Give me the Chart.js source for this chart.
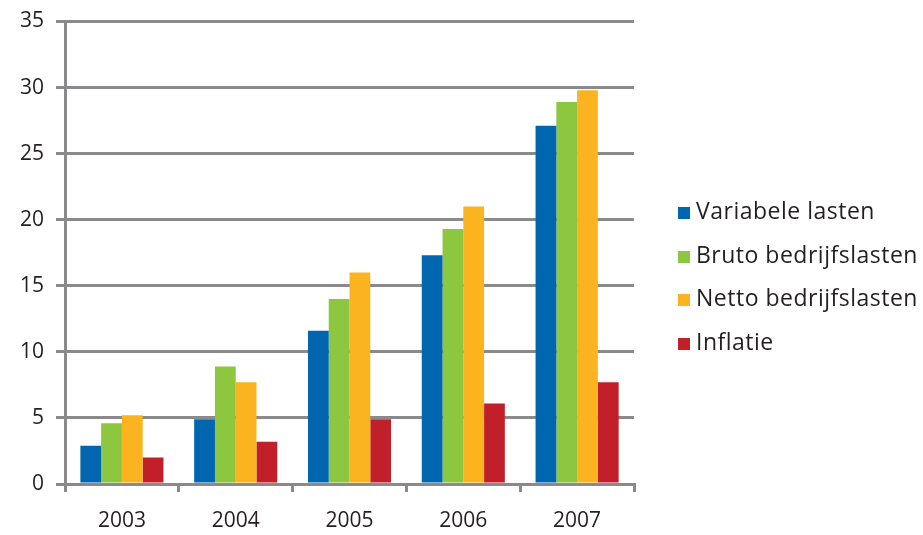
<!DOCTYPE html>
<html>
<head>
<meta charset="utf-8">
<script src="https://cdn.jsdelivr.net/npm/chart.js@4"></script>
<style>
  html, body { margin: 0; padding: 0; background: #fff; }
  #wrap { position: relative; width: 923px; height: 535px; }
  #legend { position: absolute; left: 678px; top: 189px; margin: 0; padding: 0; list-style: none;
            font-family: "Open Sans", sans-serif; font-size: 23px; letter-spacing: 0.5px; color: #231f20; }
  #legend li { height: 43.5px; line-height: 43.5px; white-space: nowrap; }
  #legend span { display: inline-block; width: 12px; height: 12px; margin-right: 6px; vertical-align: 0px; }
</style>
</head>
<body>
<div id="wrap"><canvas id="chart"></canvas><ul id="legend"></ul></div>
<script>
const years = ['2003', '2004', '2005', '2006', '2007'];
const variabeleLasten = [2.9, 4.9, 11.6, 17.3, 27.1];
const brutoBedrijfslasten = [4.6, 8.9, 14.0, 19.3, 28.9];
const nettoBedrijfslasten = [5.2, 7.7, 16.0, 21.0, 29.8];
const inflatie = [2.0, 3.2, 4.9, 6.1, 7.7];
const yTicks = [0, 5, 10, 15, 20, 25, 30, 35];

const gridGray = '#8a8a8c';
Chart.defaults.font.family = '"Open Sans", sans-serif';
Chart.defaults.color = '#231f20';

// html legend so the box sits where the reference has it
const htmlLegend = {
    id: 'htmlLegend',
    afterUpdate(chart) {
        const ul = document.getElementById('legend');
        ul.innerHTML = '';
        chart.data.datasets.forEach(ds => {
            const li = document.createElement('li');
            const box = document.createElement('span');
            box.style.background = ds.backgroundColor;
            li.appendChild(box);
            li.appendChild(document.createTextNode(ds.label));
            ul.appendChild(li);
        });
    }
};

new Chart(document.getElementById('chart'), {
    type: 'bar',
    data: {
        labels: years,
        datasets: [
            { label: 'Variabele lasten', data: variabeleLasten, backgroundColor: '#0066b0' },
            { label: 'Bruto bedrijfslasten', data: brutoBedrijfslasten, backgroundColor: '#8dc63f' },
            { label: 'Netto bedrijfslasten', data: nettoBedrijfslasten, backgroundColor: '#fbb41f' },
            { label: 'Inflatie', data: inflatie, backgroundColor: '#c1202a' }
        ]
    },
    plugins: [htmlLegend],
    options: {
        responsive: true,
        maintainAspectRatio: false,
        animation: false,
        layout: { padding: { top: 0, left: 8, right: 289, bottom: 0 } },
        datasets: { bar: { categoryPercentage: 0.73, barPercentage: 1.0 } },
        plugins: {
            legend: { display: false },
            tooltip: { enabled: false }
        },
        scales: {
            x: {
                afterFit: scale => { scale.height = 51; },
                grid: {
                    display: true,
                    drawOnChartArea: false,
                    drawTicks: true,
                    tickLength: 8,
                    offset: true,
                    color: gridGray,
                    lineWidth: 3
                },
                border: { display: true, color: gridGray, width: 3 },
                ticks: { font: { size: 21 }, padding: 16 }
            },
            y: {
                min: 0,
                max: 35,
                afterBuildTicks: axis => { axis.ticks = yTicks.map(v => ({ value: v })); },
                grid: {
                    color: gridGray,
                    lineWidth: 3,
                    tickLength: 9
                },
                border: { display: true, color: gridGray, width: 3 },
                ticks: { font: { size: 21, lineHeight: 0.9 }, padding: 12 }
            }
        }
    }
});
</script>
</body>
</html>
